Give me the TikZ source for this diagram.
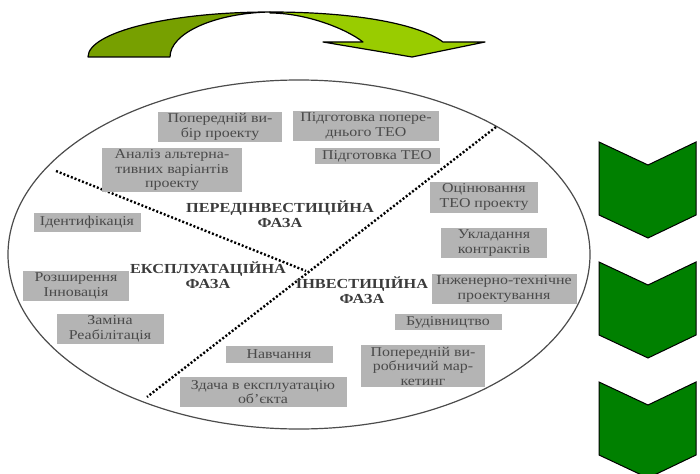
\documentclass[tikz,border=0pt]{standalone}
\usepackage{fontspec}
\setmainfont[FakeStretch=1.18]{Liberation Serif}
\usepackage{tikz}
\usetikzlibrary{positioning}
\definecolor{boxgray}{HTML}{B4B4B4}
\definecolor{txtgray}{HTML}{4A4A4A}
\definecolor{olive}{HTML}{77A000}
\definecolor{lime}{HTML}{99CC00}
\definecolor{chevgreen}{HTML}{008000}
\tikzset{
  pbox/.style={fill=boxgray,text=txtgray,align=center,inner xsep=4pt,inner ysep=2pt,
    font=\fontsize{13.5}{14.5}\selectfont},
  pfaza/.style={text=txtgray!80!black,align=center,inner sep=1pt,
    font=\bfseries\fontsize{13.8}{14.5}\selectfont},
  dotline/.style={line width=2.4pt,dash pattern=on 2pt off 2pt,draw=black},
  rim/.style={line width=1.2pt,draw=black!70},
  arrpart/.style={draw=black,line width=1.2pt,line join=round},
  chev/.style={draw=black,fill=chevgreen,line width=1pt,line join=miter}
}
\begin{document}
\begin{tikzpicture}[x=1pt,y=-1pt]
  \useasboundingbox (0,0) rectangle (700,473);
  \fill[white] (0,0) rectangle (700,473);
  % curved arrow on top
  \filldraw[arrpart,fill=olive] (88,57) .. controls (88,32) and (170,12) .. (270,12)
     .. controls (215,13) and (170,33) .. (170,57) -- cycle;
  \filldraw[arrpart,fill=lime] (270,12) .. controls (360,12) and (420,25) .. (443,42)
     -- (485,42) -- (412,57) -- (323,42) -- (363,42)
     .. controls (345,28) and (305,13) .. (270,13) -- cycle;
  % chevrons on the right
  \foreach \dy in {0,120,240}
    \filldraw[chev] (599,142+\dy) -- (648,165+\dy) -- (696,142+\dy) -- (696,215+\dy)
       -- (648,238+\dy) -- (599,215+\dy) -- cycle;
  \draw[rim] (299,254.5) ellipse [x radius=291pt, y radius=174.5pt];
  \coordinate (d1a) at (56,171);  \coordinate (d1b) at (306,271);
  \coordinate (d2a) at (496,127); \coordinate (d2b) at (147,397);
  \draw[dotline] (d1a) -- (d1b);
  \draw[dotline] (d2a) -- (d2b);
  % activities
  \node[pbox,minimum width=124pt,minimum height=30pt] (vybir) at (220,127) {Попередній ви-\\бір проекту};
  \node[pbox,minimum width=146pt,minimum height=30pt] (teo1) at (366,126) {Підготовка попере-\\днього ТЕО};
  \node[pbox,minimum width=125pt,minimum height=16pt] (teo2) at (377,156) {Підготовка ТЕО};
  \node[pbox,minimum width=140pt,minimum height=41pt] (analiz) at (172,170) {Аналіз альтерна-\\тивних варіантів\\проекту};
  \node[pbox,minimum width=107pt,minimum height=19pt] (ident) at (87,222) {Ідентифікація};
  \node[pbox,minimum width=108pt,minimum height=31pt] (ocin) at (484,197) {Оцінювання\\ТЕО проекту};
  \node[pbox,minimum width=106pt,minimum height=29pt] (uklad) at (494,243) {Укладання\\контрактів};
  \node[pbox,minimum width=145pt,minimum height=29pt] (inzh) at (504,289) {Інженерно-технічне\\проектування};
  \node[pbox,minimum width=107pt,minimum height=16pt] (budiv) at (448,322) {Будівництво};
  \node[pbox,minimum width=124pt,minimum height=41pt] (market) at (423,366) {Попередній ви-\\робничий мар-\\кетинг};
  \node[pbox,minimum width=106pt,minimum height=28pt] (rozsh) at (76,286) {Розширення\\Інновація};
  \node[pbox,minimum width=107pt,minimum height=28pt] (zamina) at (110,329) {Заміна\\Реабілітація};
  \node[pbox,minimum width=107pt,minimum height=17pt] (navch) at (279,354) {Навчання};
  \node[pbox,minimum width=167pt,minimum height=30pt] (zdacha) at (263,392) {Здача в експлуатацію\\об’єкта};
  % phases
  \node[pfaza] (fpre) at (280,214) {ПЕРЕДІНВЕСТИЦІЙНА\\ФАЗА};
  \node[pfaza] (finv) at (362,290) {ІНВЕСТИЦІЙНА\\ФАЗА};
  \node[pfaza] (fexp) at (208,275) {ЕКСПЛУАТАЦІЙНА\\ФАЗА};
\end{tikzpicture}
\end{document}
